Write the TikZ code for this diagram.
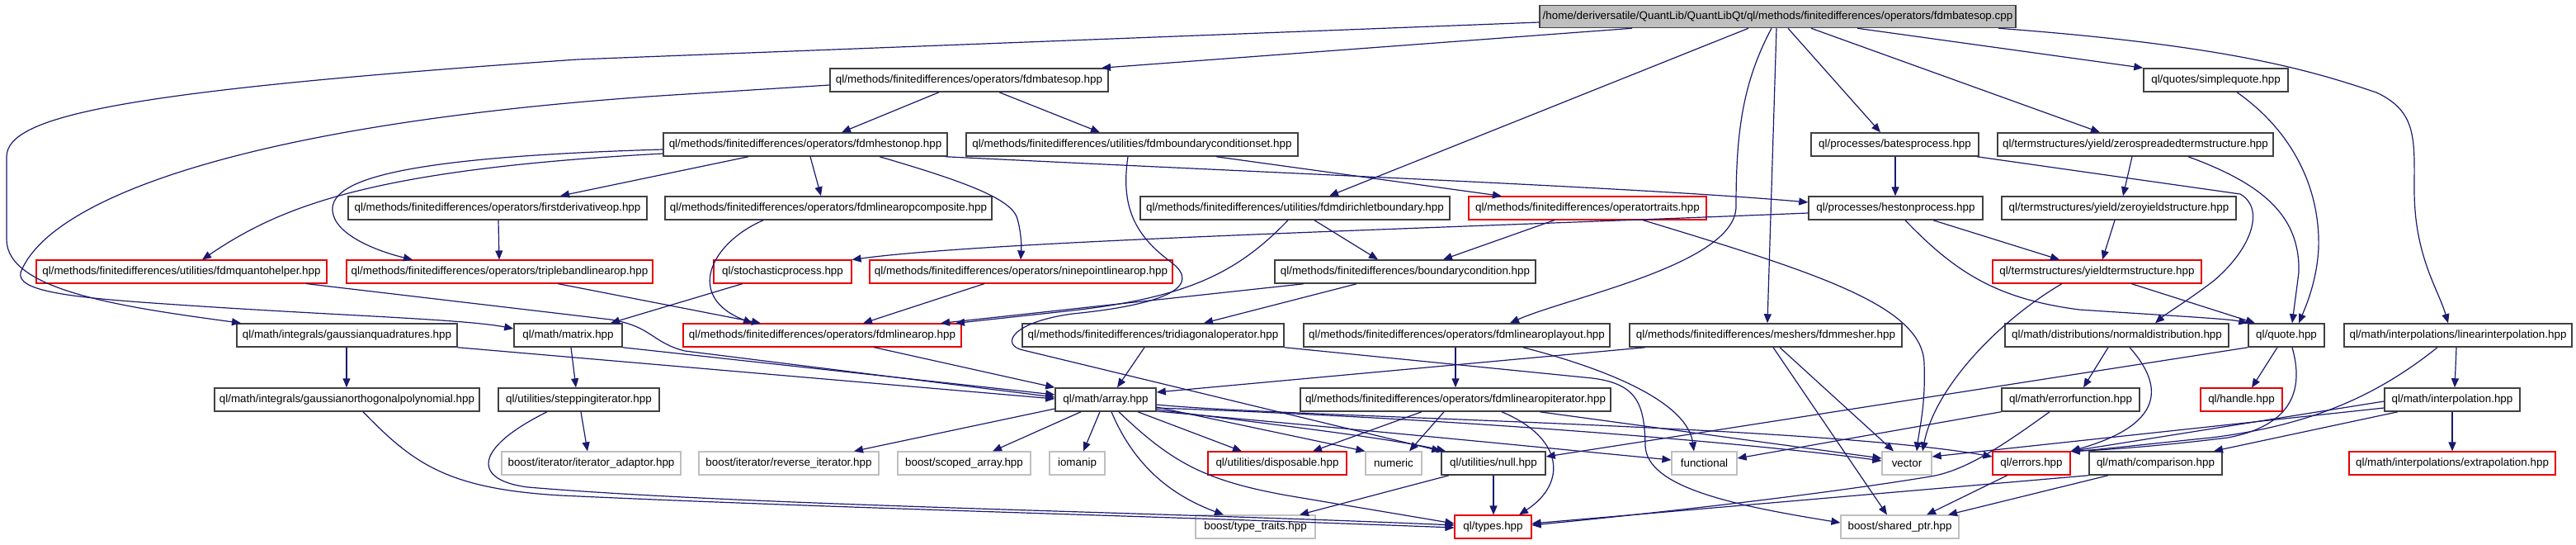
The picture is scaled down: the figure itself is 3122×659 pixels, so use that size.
\documentclass[tikz,border=0pt]{standalone}
\usepackage{fontspec}
\setmainfont{Liberation Sans}
\usetikzlibrary{arrows.meta}
\definecolor{edgeblue}{HTML}{191970}
\definecolor{boxgray}{HTML}{BFBFBF}
\definecolor{boxblack}{HTML}{404040}
\tikzset{
  box/.style={draw=boxblack, line width=1.5pt, fill=white, inner sep=0pt, minimum height=28pt, font=\fontsize{13.4}{15}\selectfont},
  redbox/.style={box, draw=red!90!black, line width=1.1pt},
  graybox/.style={box, draw=boxgray, line width=1.2pt},
  rootbox/.style={box, fill=boxgray, minimum height=27pt},
  e/.style={draw=edgeblue, line width=1.2pt, -{Triangle[length=11pt,width=9pt]}}
}
\begin{document}
\begin{tikzpicture}[x=1pt,y=-1pt]
\useasboundingbox (0,0) rectangle (3122,659);
% row 0
\node[rootbox, minimum width=577pt] (root) at (2154.5,20) {/home/deriversatile/QuantLib/QuantLibQt/ql/methods/finitedifferences/operators/fdmbatesop.cpp};
% row 1
\node[box, minimum width=337pt] (fdmbatesop) at (1174.5,97) {ql/methods/finitedifferences/operators/fdmbatesop.hpp};
\node[box, minimum width=175pt] (simplequote) at (2685.5,97) {ql/quotes/simplequote.hpp};
% row 2
\node[box, minimum width=344pt] (fdmhestonop) at (976,175) {ql/methods/finitedifferences/operators/fdmhestonop.hpp};
\node[box, minimum width=402pt] (fdmbcset) at (1372,175) {ql/methods/finitedifferences/utilities/fdmboundaryconditionset.hpp};
\node[box, minimum width=203pt] (batesprocess) at (2296.5,175) {ql/processes/batesprocess.hpp};
\node[box, minimum width=334pt] (zerospread) at (2588,175) {ql/termstructures/yield/zerospreadedtermstructure.hpp};
% row 3
\node[box, minimum width=362pt] (firstderiv) at (603,252) {ql/methods/finitedifferences/operators/firstderivativeop.hpp};
\node[box, minimum width=396pt] (composite) at (1004,252) {ql/methods/finitedifferences/operators/fdmlinearopcomposite.hpp};
\node[box, minimum width=375pt] (dirichlet) at (1569.5,252) {ql/methods/finitedifferences/utilities/fdmdirichletboundary.hpp};
\node[redbox, minimum width=288pt] (optraits) at (1924,252) {ql/methods/finitedifferences/operatortraits.hpp};
\node[box, minimum width=211pt] (heston) at (2297.5,252) {ql/processes/hestonprocess.hpp};
\node[box, minimum width=284pt] (zeroyield) at (2568,252) {ql/termstructures/yield/zeroyieldstructure.hpp};
% row 4
\node[redbox, minimum width=352pt] (quanto) at (220,329) {ql/methods/finitedifferences/utilities/fdmquantohelper.hpp};
\node[redbox, minimum width=371pt] (tripleband) at (605.5,329) {ql/methods/finitedifferences/operators/triplebandlinearop.hpp};
\node[redbox, minimum width=167pt] (stochproc) at (948.5,329) {ql/stochasticprocess.hpp};
\node[redbox, minimum width=367pt] (ninepoint) at (1237.5,329) {ql/methods/finitedifferences/operators/ninepointlinearop.hpp};
\node[box, minimum width=316pt] (bcond) at (1703,329) {ql/methods/finitedifferences/boundarycondition.hpp};
\node[redbox, minimum width=253pt] (yieldts) at (2541.5,329) {ql/termstructures/yieldtermstructure.hpp};
% row 5
\node[box, minimum width=267pt] (gaussquad) at (420.5,406) {ql/math/integrals/gaussianquadratures.hpp};
\node[box, minimum width=131pt] (matrix) at (688.5,406) {ql/math/matrix.hpp};
\node[redbox, minimum width=337pt] (fdmlinearop) at (996.5,406) {ql/methods/finitedifferences/operators/fdmlinearop.hpp};
\node[box, minimum width=317pt] (tridiag) at (1397.5,406) {ql/methods/finitedifferences/tridiagonaloperator.hpp};
\node[box, minimum width=371pt] (layout) at (1765.5,406) {ql/methods/finitedifferences/operators/fdmlinearoplayout.hpp};
\node[box, minimum width=330pt] (mesher) at (2140,406) {ql/methods/finitedifferences/meshers/fdmmesher.hpp};
\node[box, minimum width=271pt] (normaldist) at (2565.5,406) {ql/math/distributions/normaldistribution.hpp};
\node[box, minimum width=92pt] (quote) at (2771,406) {ql/quote.hpp};
\node[box, minimum width=276pt] (linearinterp) at (2979,406) {ql/math/interpolations/linearinterpolation.hpp};
% row 6
\node[box, minimum width=321pt] (gaussorth) at (420.5,484) {ql/math/integrals/gaussianorthogonalpolynomial.hpp};
\node[box, minimum width=195pt] (stepping) at (701.5,484) {ql/utilities/steppingiterator.hpp};
\node[box, minimum width=122pt] (array) at (1340,484) {ql/math/array.hpp};
\node[box, minimum width=376pt] (opiter) at (1764,484) {ql/methods/finitedifferences/operators/fdmlinearopiterator.hpp};
\node[box, minimum width=167pt] (errorfn) at (2509.5,484) {ql/math/errorfunction.hpp};
\node[redbox, minimum width=99pt] (handle) at (2716.5,484) {ql/handle.hpp};
\node[box, minimum width=164pt] (interp) at (2972,484) {ql/math/interpolation.hpp};
% row 7
\node[graybox, minimum width=217pt] (iteradaptor) at (716.5,561) {boost/iterator/iterator\_adaptor.hpp};
\node[graybox, minimum width=218pt] (reverseiter) at (956,561) {boost/iterator/reverse\_iterator.hpp};
\node[graybox, minimum width=161pt] (scopedarray) at (1168.5,561) {boost/scoped\_array.hpp};
\node[graybox, minimum width=67pt] (iomanip) at (1305.5,561) {iomanip};
\node[redbox, minimum width=168pt] (disposable) at (1548,561) {ql/utilities/disposable.hpp};
\node[graybox, minimum width=68pt] (numeric) at (1689,561) {numeric};
\node[box, minimum width=126pt] (null) at (1810,561) {ql/utilities/null.hpp};
\node[graybox, minimum width=79pt] (functional) at (2065.5,561) {functional};
\node[graybox, minimum width=60pt] (vector) at (2311,561) {vector};
\node[redbox, minimum width=94pt] (errors) at (2462,561) {ql/errors.hpp};
\node[box, minimum width=161pt] (comparison) at (2612.5,561) {ql/math/comparison.hpp};
\node[redbox, minimum width=250pt] (extrapolation) at (2972,561) {ql/math/interpolations/extrapolation.hpp};
% row 8
\node[graybox, minimum width=145pt] (typetraits) at (1521.5,638) {boost/type\_traits.hpp};
\node[redbox, minimum width=93pt] (types) at (1809.5,638) {ql/types.hpp};
\node[graybox, minimum width=143pt] (sharedptr) at (2302.5,638) {boost/shared\_ptr.hpp};

% ---------- edges ----------
\draw[e] (root.south -| 1978,0) -- (fdmbatesop.north -| 1335,0);
\draw[e] (root.west |- 0,27) -- (700,72) .. controls (150,110) and (8,140) .. (8,190) -- (8,290) .. controls (8,352) and (150,372) .. (gaussquad.north -| 292,0);
\draw[e] (fdmbatesop.west |- 0,103) -- (800,116) .. controls (300,150) and (60,240) .. (25,330) .. controls (20,352) and (80,360) .. (200,368) .. controls (400,382) and (560,386) .. (matrix.west |- 0,398);
\draw[e] (root.south -| 2119,0) -- (dirichlet.north -| 1611,0);
\draw[e] (root.south -| 2147,0) .. controls (2112,100) and (2104,160) .. (2104,250) .. controls (2104,320) and (1900,360) .. (layout.north -| 1830,0);
\draw[e] (root.south -| 2153,0) -- (mesher.north -| 2142,0);
\draw[e] (root.south -| 2167,0) -- (batesprocess.north -| 2279,0);
\draw[e] (root.south -| 2195,0) -- (zerospread.north -| 2545,0);
\draw[e] (root.south -| 2251,0) -- (simplequote.north west);
\draw[e] (root.south -| 2422,0) .. controls (2700,55) and (2800,85) .. (2880,112) .. controls (2930,135) and (2926,170) .. (2926,230) .. controls (2926,310) and (2955,350) .. (linearinterp.north -| 2967,0);
\draw[e] (fdmbatesop.south -| 1138,0) -- (fdmhestonop.north -| 1020,0);
\draw[e] (fdmbatesop.south -| 1211,0) -- (fdmbcset.north -| 1333,0);
\draw[e] (fdmhestonop.south -| 982,0) -- (composite.north -| 995,0);
\draw[e] (fdmhestonop.south -| 1066,0) .. controls (1170,220) and (1222,240) .. (1232,262) .. controls (1238,280) and (1238,300) .. (ninepoint.north -| 1237,0);
\draw[e] (fdmhestonop.south -| 907,0) -- (firstderiv.north -| 679,0);
\draw[e] (fdmhestonop.west |- 0,186) .. controls (450,205) and (340,250) .. (quanto.north -| 245,0);
\draw[e] (fdmhestonop.west |- 0,181) .. controls (500,190) and (400,215) .. (403,255) .. controls (405,285) and (460,305) .. (tripleband.north -| 500,0);
\draw[e] (fdmhestonop.south -| 1146,0) .. controls (1600,212) and (2000,228) .. (heston.west |- 0,245);
\draw[e] (fdmbcset.south -| 1474,0) -- (optraits.north -| 1820,0);
\draw[e] (fdmbcset.south -| 1367,0) .. controls (1358,250) and (1375,285) .. (1420,318) .. controls (1455,345) and (1420,368) .. (1300,380) .. controls (1225,390) and (1212,418) .. (1240,424) -- (null.north west);
\draw[e] (dirichlet.south -| 1593,0) -- (bcond.north -| 1670,0);
\draw[e] (dirichlet.south -| 1561,0) .. controls (1500,330) and (1440,360) .. (1300,376) -- (fdmlinearop.north -| 1158,0);
\draw[e] (bcond.south -| 1580,0) -- (fdmlinearop.north -| 1140,0);
\draw[e] (bcond.south -| 1644,0) -- (tridiag.north -| 1459,0);
\draw[e] (optraits.south -| 1884,0) -- (bcond.north -| 1749,0);
\draw[e] (optraits.south -| 1991,0) .. controls (2200,330) and (2330,370) .. (2332,440) .. controls (2334,490) and (2326,520) .. (vector.north -| 2323,0);
\draw[e] (heston.west |- 0,258) .. controls (1700,278) and (1200,292) .. (stochproc.north east);
\draw[e] (heston.south -| 2343,0) -- (yieldts.north -| 2496,0);
\draw[e] (heston.south -| 2309,0) .. controls (2370,330) and (2420,362) .. (2520,375) .. controls (2640,383) and (2700,386) .. (quote.north west);
\draw[e] (batesprocess.south -| 2297,0) -- (heston.north -| 2297,0);
\draw[e] (batesprocess.south -| 2396,0) -- (2715,235) .. controls (2745,252) and (2730,300) .. (2683,340) .. controls (2650,365) and (2625,380) .. (normaldist.north -| 2612,0);
\draw[e] (zerospread.south -| 2584,0) -- (zeroyield.north -| 2573,0);
\draw[e] (zerospread.south -| 2652,0) .. controls (2740,222) and (2788,260) .. (2786,330) -- (quote.north -| 2778,0);
\draw[e] (simplequote.south -| 2711,0) .. controls (2780,160) and (2812,230) .. (2810,300) .. controls (2808,340) and (2795,370) .. (quote.north -| 2786,0);
\draw[e] (zeroyield.south -| 2563,0) -- (yieldts.north -| 2548,0);
\draw[e] (yieldts.south -| 2583,0) -- (quote.north -| 2733,0);
\draw[e] (yieldts.south -| 2499,0) .. controls (2420,390) and (2345,470) .. (vector.north -| 2330,0);
\draw[e] (composite.south -| 925,0) .. controls (860,295) and (830,360) .. (fdmlinearop.north -| 912,0);
\draw[e] (tripleband.south -| 676,0) -- (fdmlinearop.north -| 922,0);
\draw[e] (ninepoint.south -| 1193,0) -- (fdmlinearop.north -| 1046,0);
\draw[e] (stochproc.south -| 900,0) -- (matrix.north -| 740,0);
\draw[e] (firstderiv.south -| 604,0) -- (tripleband.north -| 605,0);
\draw[e] (quanto.south -| 371,0) -- (740,387) .. controls (790,395) and (790,415) .. (830,425) -- (array.west |- 0,481);
\draw[e] (gaussquad.south east) -- (array.west |- 0,483);
\draw[e] (matrix.south east) -- (array.west |- 0,478);
\draw[e] (fdmlinearop.south -| 1059,0) -- (array.north west);
\draw[e] (tridiag.south -| 1387,0) -- (array.north -| 1354,0);
\draw[e] (gaussquad.south -| 420,0) -- (gaussorth.north -| 420,0);
\draw[e] (matrix.south -| 692,0) -- (stepping.north -| 698,0);
\draw[e] (stepping.south -| 704,0) -- (iteradaptor.north -| 712,0);
\draw[e] (stepping.south -| 663,0) .. controls (570,545) and (575,582) .. (640,590) .. controls (900,612) and (1400,620) .. (types.west |- 0,636);
\draw[e] (gaussorth.south -| 440,0) .. controls (500,560) and (540,592) .. (680,600) .. controls (1000,615) and (1400,625) .. (types.west |- 0,639);
\draw[e] (array.west |- 0,495) -- (reverseiter.north -| 1035,0);
\draw[e] (array.south -| 1310,0) -- (scopedarray.north -| 1203,0);
\draw[e] (array.south -| 1333,0) -- (iomanip.north -| 1313,0);
\draw[e] (array.south -| 1379,0) -- (disposable.north -| 1505,0);
\draw[e] (array.south -| 1347,0) .. controls (1375,565) and (1420,600) .. (typetraits.north -| 1483,0);
\draw[e] (array.south -| 1356,0) .. controls (1420,560) and (1460,582) .. (1560,600) -- (types.west |- 0,634);
\draw[e] (array.east |- 0,493) -- (numeric.north west);
\draw[e] (array.east |- 0,496) .. controls (1550,515) and (1680,530) .. (null.north -| 1752,0);
\draw[e] (array.east |- 0,498) .. controls (1700,525) and (1900,545) .. (functional.west |- 0,557);
\draw[e] (array.east |- 0,494) .. controls (1800,508) and (2150,540) .. (vector.west |- 0,558);
\draw[e] (array.east |- 0,490) .. controls (1550,505) and (2200,515) .. (errors.west |- 0,553);
\draw[e] (layout.south -| 1764,0) -- (opiter.north -| 1764,0);
\draw[e] (layout.south -| 1846,0) .. controls (1960,450) and (2045,490) .. (functional.north -| 2053,0);
\draw[e] (opiter.south -| 1723,0) -- (disposable.north -| 1591,0);
\draw[e] (opiter.south -| 1750,0) -- (numeric.north -| 1708,0);
\draw[e] (opiter.south -| 1820,0) .. controls (1895,530) and (1900,585) .. (types.north -| 1841,0);
\draw[e] (opiter.south -| 1866,0) -- (vector.west |- 0,555);
\draw[e] (mesher.south -| 1994,0) -- (array.east |- 0,475);
\draw[e] (mesher.south -| 2157,0) -- (vector.north -| 2295,0);
\draw[e] (mesher.south -| 2149,0) -- (sharedptr.north -| 2287,0);
\draw[e] (null.south -| 1756,0) -- (typetraits.north -| 1575,0);
\draw[e] (null.south -| 1810,0) -- (types.north -| 1810,0);
\draw[e] (tridiag.south east) -- (1930,458) .. controls (1985,465) and (1993,490) .. (1994,540) .. controls (1996,590) and (2100,612) .. (sharedptr.west |- 0,633);
\draw[e] (quote.south west) -- (null.east |- 0,553);
\draw[e] (quote.south -| 2760,0) -- (handle.north -| 2729,0);
\draw[e] (quote.south -| 2778,0) .. controls (2792,470) and (2780,515) .. (2700,530) .. controls (2620,540) and (2550,545) .. (errors.north east);
\draw[e] (normaldist.south -| 2555,0) -- (errorfn.north -| 2525,0);
\draw[e] (normaldist.south -| 2581,0) .. controls (2625,470) and (2620,515) .. (errors.north east);
\draw[e] (errorfn.south west) -- (functional.east |- 0,555);
\draw[e] (errorfn.south -| 2484,0) .. controls (2420,545) and (2380,570) .. (2340,577) .. controls (2200,600) and (2000,622) .. (types.east |- 0,636);
\draw[e] (comparison.south west) -- (types.east |- 0,634);
\draw[e] (comparison.south -| 2555,0) -- (sharedptr.north -| 2361,0);
\draw[e] (errors.south -| 2433,0) -- (sharedptr.north -| 2335,0);
\draw[e] (linearinterp.south -| 2977,0) -- (interp.north -| 2975,0);
\draw[e] (linearinterp.south -| 2954,0) .. controls (2880,480) and (2800,515) .. (2680,530) .. controls (2600,538) and (2540,545) .. (errors.north east);
\draw[e] (interp.west |- 0,486) -- (errors.north east);
\draw[e] (interp.west |- 0,494) -- (vector.east |- 0,553);
\draw[e] (interp.south -| 2906,0) -- (comparison.north -| 2683,0);
\draw[e] (interp.south -| 2972,0) -- (extrapolation.north -| 2972,0);
\end{tikzpicture}
\end{document}
